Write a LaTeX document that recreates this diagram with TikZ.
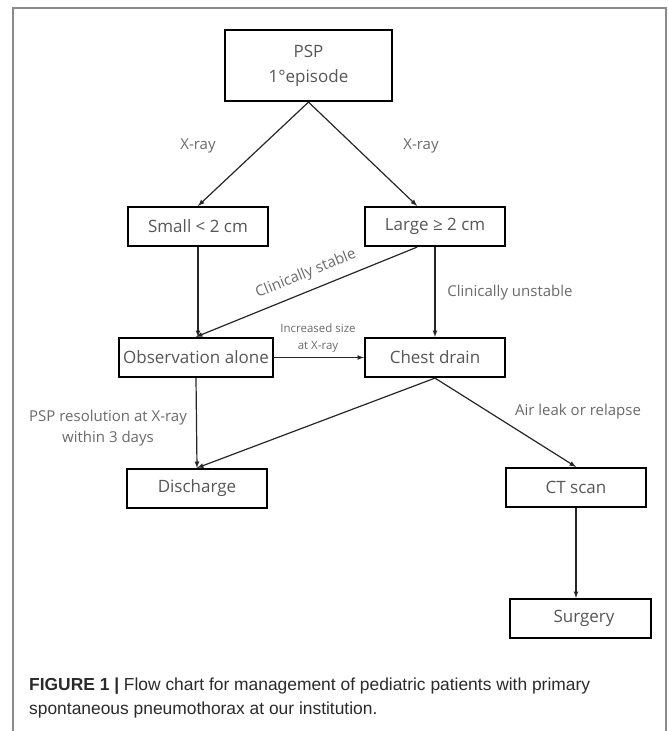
\documentclass[tikz,border=0pt]{standalone}
\usepackage{fontspec}
\setmainfont{Open Sans}
\newfontfamily\capfont{Liberation Sans}
\usepackage{tikz}
\usetikzlibrary{shapes}
\usetikzlibrary{arrows}
\definecolor{boxtext}{HTML}{565656}
\definecolor{lbltext}{HTML}{6A6A6A}
\definecolor{framegray}{HTML}{8A8A8A}
\definecolor{captext}{HTML}{2A2A2A}
\tikzset{
	stepbox/.style={draw=black, line width=2.2pt, inner sep=0pt, minimum height=39pt, text=boxtext, font=\fontsize{17}{25}\selectfont, align=center},
	flow/.style={-latex, line width=1.2pt, draw=black!85},
	lbl/.style={text=lbltext, font=\fontsize{15}{21}\selectfont, align=center, inner sep=0pt},
	captxt/.style={anchor=base west, inner sep=0pt, text=captext, font=\capfont\fontsize{17.4}{24}\selectfont},
}

\begin{document}
\begin{tikzpicture}[x=1pt, y=-1pt]
		\useasboundingbox (0,0) rectangle (669,731);
		\draw[framegray, line width=1.4pt] (13,740) -- (13,8) -- (666,8) -- (666,740);
		% boxes
		\node[stepbox, minimum width=167pt, minimum height=71pt] (psp) at (308.5,65.5) {PSP\\1\textdegree episode};
		\node[stepbox, minimum width=140pt] (small) at (198,226.5) {Small < 2 cm};
		\node[stepbox, minimum width=140pt] (large) at (435,226.5) {Large ≥ 2 cm};
		\node[stepbox, minimum width=154pt] (obs) at (196,357.5) {Observation alone};
		\node[stepbox, minimum width=140pt] (chest) at (435,357.5) {Chest drain};
		\node[stepbox, minimum width=140pt] (dis) at (197,488.5) {Discharge};
		\node[stepbox, minimum width=140pt] (ct) at (576,487.5) {CT scan};
		\node[stepbox, minimum width=141pt] (surg) at (580.5,618.5) {\hspace*{7pt}Surgery};
		% connectors
		\draw[flow] (psp.south) -- (small.north);
		\draw[flow] (psp.south) -- (large.131);
		\draw[flow] (small.south) -- (obs.north -| small.south);
		\draw[flow] (large.-131) -- (obs.north);
		\draw[flow] (large.south) -- (chest.north);
		\draw[flow] (obs.east) -- (chest.west);
		\draw[flow] (obs.south) -- (dis.north);
		\draw[flow] (chest.south) -- (dis.north);
		\draw[flow] (chest.south) -- (ct.north);
		\draw[flow] (ct.south) -- (ct.south |- surg.north);
		% labels
		\node[lbl] (xl) at (198,146) {X-ray};
		\node[lbl] (xr) at (421,146) {X-ray};
		\node[lbl, rotate=22] (stab) at (306,274) {Clinically stable};
		\node[lbl] (unst) at (510,293) {Clinically unstable};
		\node[lbl, font=\fontsize{11.5}{17.5}\selectfont] (incr) at (318,338) {Increased size\\at X-ray};
		\node[lbl] (res) at (108,428.5) {PSP resolution at X-ray\\within 3 days};
		\node[lbl] (leak) at (578,412) {Air leak or relapse};
		% caption
		\node[captxt] (cap1) at (29,690.5) {\textbf{FIGURE 1 |} Flow chart for management of pediatric patients with primary};
		\node[captxt] (cap2) at (29,714) {spontaneous pneumothorax at our institution.};
	\end{tikzpicture}
\end{document}
